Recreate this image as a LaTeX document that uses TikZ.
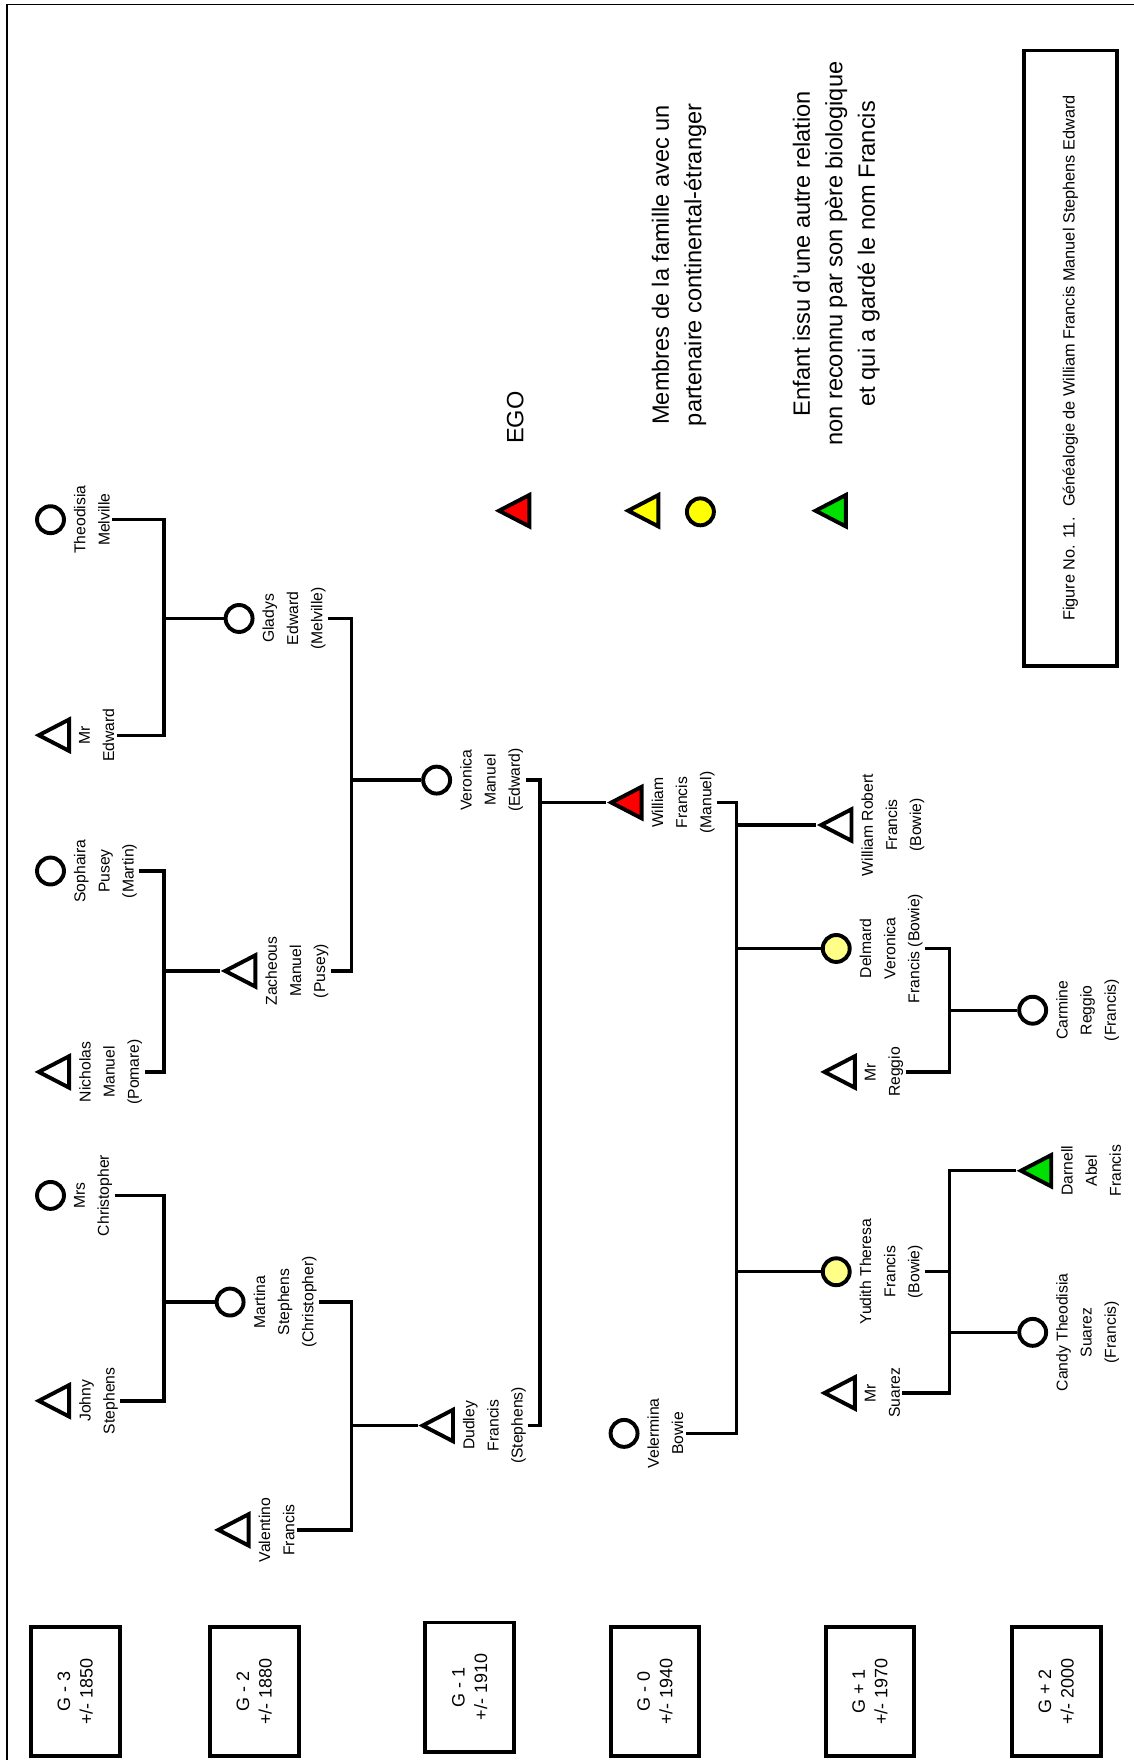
\documentclass[tikz,border=0pt]{standalone}
\usepackage{fontspec}
\setmainfont{Liberation Sans}
\usetikzlibrary{shapes.geometric,positioning}
\definecolor{egored}{HTML}{FF0000}
\definecolor{partner}{HTML}{FFFF00}
\definecolor{partnerlight}{HTML}{FFFF88}
\definecolor{childgreen}{HTML}{00E000}
\pgfmathsetmacro{\symlw}{3.5}
\pgfmathsetmacro{\labgap}{5}
\tikzset{
  masc/.style={draw, line width=\symlw pt, fill=white, isosceles triangle,
    shape border rotate=180, isosceles triangle stretches,
    minimum width=28pt, minimum height=27pt, inner sep=0pt},
  fem/.style={draw, line width=\symlw pt, fill=white, circle,
    minimum size=24pt, inner sep=0pt},
  lbl/.style={rotate=90, align=center, inner sep=2pt,
    font=\fontsize{14}{21.5}\selectfont},
  tree/.style={line width=3pt},
  genbox/.style={draw, line width=\symlw pt, rotate=90, align=center,
    minimum width=115pt, minimum height=79pt,
    font=\fontsize{16}{20}\selectfont},
  legendtext/.style={rotate=90, align=center,
    font=\fontsize{21}{29}\selectfont}
}
\begin{document}
\begin{tikzpicture}[x=1pt, y=-1pt]
    \useasboundingbox (0,0) rectangle (1010,1568);
    % frame
    \draw[line width=1.5pt] (6,1568) -- (6,4) -- (1010,4);
    % generation boxes
    \node[genbox] (g_m3) at (67,1507) {G - 3\\+/- 1850};
    \node[genbox] (g_m2) at (226.5,1507) {G - 2\\+/- 1880};
    \node[genbox] (g_m1) at (418.5,1503) {G - 1\\+/- 1910};
    \node[genbox] (g_0) at (583.5,1507) {G - 0\\+/- 1940};
    \node[genbox] (g_p1) at (775,1507) {G + 1\\+/- 1970};
    \node[genbox] (g_p2) at (941,1507) {G + 2\\+/- 2000};
    % caption
    \node[draw, line width=\symlw pt, rotate=90, minimum width=548pt,
        minimum height=83pt, font=\fontsize{14.5}{17}\selectfont] (caption)
        at (953.5,319) {Figure No. 11.~ Généalogie de William Francis Manuel Stephens Edward};
    % legend
    \node[masc, fill=egored, anchor=apex] (t_ego) at (440,455) {};
    \node[legendtext] (l_ego) at (459,372) {EGO};
    \node[masc, fill=partner, anchor=apex] (t_partner) at (555,455) {};
    \node[fem, fill=partner] (c_partner) at (624,456) {};
    \node[legendtext] (l_partner) at (605,236)
        {Membres de la famille avec un\\partenaire continental-étranger};
    \node[masc, fill=childgreen, anchor=apex] (t_child) at (722,455) {};
    \node[legendtext] (l_child) at (745,226)
        {Enfant issu d'une autre relation\\non reconnu par son père biologique\\et qui a gardé le nom Francis};
    % G - 3
    \node[fem] (c_theodisia) at (45,463) {};
    \node[masc, anchor=apex] (t_mredward) at (30,655) {};
    \node[fem] (c_sophaira) at (45,776) {};
    \node[masc, anchor=apex] (t_nicholas) at (30,955) {};
    \node[fem] (c_mrschris) at (45,1065) {};
    \node[masc, anchor=apex] (t_johny) at (30,1248) {};
    % G - 2
    \node[fem] (c_gladys) at (213,551) {};
    \node[masc, anchor=apex] (t_zacheous) at (196,865) {};
    \node[fem] (c_martina) at (205,1160) {};
    \node[masc, anchor=apex] (t_valentino) at (190,1363) {};
    % G - 1
    \node[fem] (c_veronica) at (389,695) {};
    \node[masc, anchor=apex] (t_dudley) at (372,1270) {};
    % G - 0
    \node[masc, fill=egored, anchor=apex] (t_william) at (540,715) {};
    \node[fem] (c_velermina) at (556,1277) {};
    % G + 1
    \node[masc, anchor=apex] (t_wrobert) at (727,735) {};
    \node[fem, fill=partnerlight] (c_delmard) at (745,845) {};
    \node[masc, anchor=apex] (t_mrreggio) at (730,955) {};
    \node[fem, fill=partnerlight] (c_yudith) at (745,1133) {};
    \node[masc, anchor=apex] (t_mrsuarez) at (730,1241) {};
    % G + 2
    \node[fem] (c_carmine) at (920,900) {};
    \node[masc, fill=childgreen, anchor=apex] (t_darnell) at (905,1043) {};
    \node[fem] (c_candy) at (920,1187) {};
    % add labels
    \node[lbl, anchor=north] (l_theodisia) at ([xshift=\labgap pt]c_theodisia.east) {Theodisia\\Melville};
    \node[lbl, anchor=north] (l_mredward) at ([xshift=\labgap pt]t_mredward.east) {Mr\\Edward};
    \node[lbl, anchor=north] (l_sophaira) at ([xshift=\labgap pt]c_sophaira.east) {Sophaira\\Pusey\\(Martin)};
    \node[lbl, anchor=north] (l_nicholas) at ([xshift=\labgap pt]t_nicholas.east) {Nicholas\\Manuel\\(Pomare)};
    \node[lbl, anchor=north] (l_mrschris) at ([xshift=\labgap pt]c_mrschris.east) {Mrs\\Christopher};
    \node[lbl, anchor=north] (l_johny) at ([xshift=\labgap pt]t_johny.east) {Johny\\Stephens};
    \node[lbl, anchor=north] (l_gladys) at ([xshift=\labgap pt]c_gladys.east) {Gladys\\Edward\\(Melville)};
    \node[lbl, anchor=north] (l_zacheous) at ([xshift=\labgap pt]t_zacheous.east) {Zacheous\\Manuel\\(Pusey)};
    \node[lbl, anchor=north] (l_martina) at ([xshift=\labgap pt]c_martina.east) {Martina\\Stephens\\(Christopher)};
    \node[lbl, anchor=north] (l_valentino) at ([xshift=\labgap pt]t_valentino.east) {Valentino\\Francis};
    \node[lbl, anchor=north] (l_veronica) at ([xshift=\labgap pt]c_veronica.east) {Veronica\\Manuel\\(Edward)};
    \node[lbl, anchor=north] (l_dudley) at ([xshift=\labgap pt]t_dudley.east) {Dudley\\Francis\\(Stephens)};
    \node[lbl, anchor=north] (l_william) at ([xshift=\labgap pt]t_william.east) {William\\Francis\\(Manuel)};
    \node[lbl, anchor=north] (l_velermina) at ([xshift=\labgap pt]c_velermina.east) {Velermina\\Bowie};
    \node[lbl, anchor=north] (l_wrobert) at ([xshift=\labgap pt]t_wrobert.east) {William Robert\\Francis\\(Bowie)};
    \node[lbl, anchor=north] (l_delmard) at ([xshift=\labgap pt]c_delmard.east) {Delmard\\Veronica\\Francis (Bowie)};
    \node[lbl, anchor=north] (l_mrreggio) at ([xshift=\labgap pt]t_mrreggio.east) {Mr\\Reggio};
    \node[lbl, anchor=north] (l_yudith) at ([xshift=\labgap pt]c_yudith.east) {Yudith Theresa\\Francis\\(Bowie)};
    \node[lbl, anchor=north] (l_mrsuarez) at ([xshift=\labgap pt]t_mrsuarez.east) {Mr\\Suarez};
    \node[lbl, anchor=north] (l_carmine) at ([xshift=\labgap pt]c_carmine.east) {Carmine\\Reggio\\(Francis)};
    \node[lbl, anchor=north] (l_darnell) at ([xshift=\labgap pt]t_darnell.east) {Darnell\\Abel\\Francis};
    \node[lbl, anchor=north] (l_candy) at ([xshift=\labgap pt]c_candy.east) {Candy Theodisia\\Suarez\\(Francis)};
    % junctions
    \coordinate (j_melville) at (146,551);
    \coordinate (j_pusey) at (146,865);
    \coordinate (j_stephens) at (146,1160);
    \coordinate (j_manuel) at (313,695);
    \coordinate (j_francis) at (313,1270);
    \coordinate (j_william) at (481,715);
    \coordinate (j_bowie) at (656,845);
    \coordinate (j_reggio) at (846,900);
    \coordinate (j_suarez) at (846,1187);
    % draw tree
    \draw[tree] (l_theodisia.south) -| (j_melville) |- (l_mredward.south);
    \draw[tree] (j_melville) -- (c_gladys);
    \draw[tree] (l_sophaira.south) -| (j_pusey) |- (l_nicholas.south);
    \draw[tree] (j_pusey) -- (t_zacheous);
    \draw[tree] (l_mrschris.south) -| (j_stephens) |- (l_johny.south);
    \draw[tree] (j_stephens) -- (c_martina);
    \draw[tree] (l_gladys.south) -| (j_manuel) |- (l_zacheous.south);
    \draw[tree] (j_manuel) -- (c_veronica);
    \draw[tree] (l_martina.south) -| (j_francis) |- (l_valentino.south);
    \draw[tree] (j_francis) -- (t_dudley);
    \draw[tree] (l_veronica.south) -| (j_william) |- (l_dudley.south);
    \draw[tree] (j_william) -- (t_william);
    \draw[tree] (l_william.south) -| (j_bowie) |- (l_velermina.south);
    \draw[tree] (t_wrobert -| j_bowie) -- (t_wrobert);
    \draw[tree] (j_bowie) -- (c_delmard);
    \draw[tree] (c_yudith -| j_bowie) -- (c_yudith);
    \draw[tree] (l_delmard.south) -| (j_reggio) |- (l_mrreggio.south);
    \draw[tree] (j_reggio) -- (c_carmine);
    \draw[tree] (t_darnell) -| (j_suarez) |- (l_mrsuarez.south);
    \draw[tree] (l_yudith.south) -- (l_yudith.south -| j_suarez);
    \draw[tree] (j_suarez) -- (c_candy);
\end{tikzpicture}
\end{document}
